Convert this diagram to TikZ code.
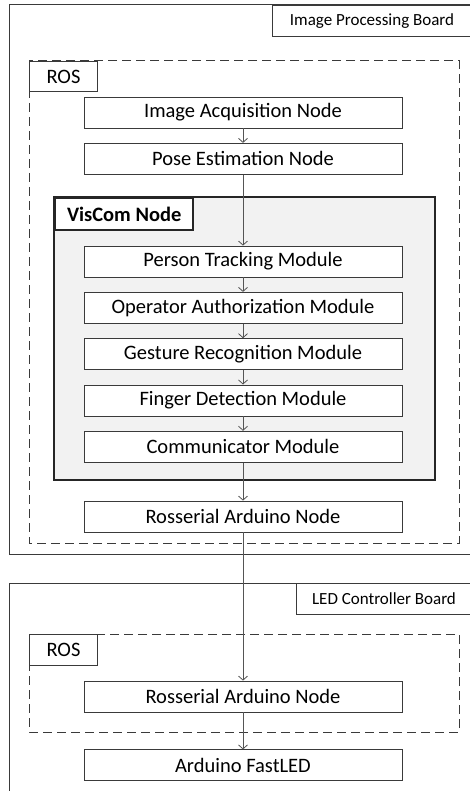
\documentclass[tikz,border=0pt]{standalone}
\usepackage{fontspec}
\setmainfont{Carlito}
\usetikzlibrary{arrows.meta,positioning}
\definecolor{Edge}{HTML}{3A3A3A}
\definecolor{Wire}{HTML}{555555}
\definecolor{Shade}{HTML}{F2F2F2}
\tikzset{
  board/.style={draw=Edge,line width=1pt},
  boardtag/.style={draw=Edge,line width=1pt,fill=white,inner sep=0pt,
    minimum height=31pt,font=\fontsize{17}{20}\selectfont},
  rosframe/.style={draw=Edge,line width=1pt,dash pattern=on 9pt off 5pt},
  rostag/.style={draw=Edge,line width=1pt,fill=white,inner sep=0pt,
    minimum width=68pt,minimum height=30pt,font=\fontsize{20.5}{24}\selectfont},
  block/.style={draw=Edge,line width=0.8pt,fill=white,inner sep=0pt,
    minimum width=318pt,minimum height=31pt,font=\fontsize{20.5}{24}\selectfont},
  arrow/.style={-{Straight Barb[length=4pt,width=9pt]},line width=0.8pt,color=Wire}
}
\begin{document}
\begin{tikzpicture}[x=1pt,y=-1pt,node distance=14.5pt]
  \useasboundingbox (0,0) rectangle (470,791);
  % image processing board (runs off the right edge)
  \draw[board] (490,5) -- (9,5) -- (9,554) -- (490,554);
  \node[boardtag,anchor=north east,minimum width=217pt] (tagA) at (490,5) {Image Processing Board\hspace*{18pt}};
  \draw[rosframe] (29,61) rectangle (459,543);
  \node[rostag,anchor=north west] (rostagA) at (29,61) {ROS};
  \node[block] (iacq) at (243,112.5) {Image Acquisition Node};
  \node[block,below=of iacq] (pose) {Pose Estimation Node};
  % viscom node
  \draw[draw=black!85,line width=2.4pt,fill=Shade] (54,197) rectangle (435,480);
  \node[draw=black!85,line width=2.4pt,fill=white,anchor=north west,inner sep=0pt,
    minimum width=138pt,minimum height=32pt,font=\fontsize{20.5}{24}\selectfont\bfseries]
    (vctag) at (54,197) {VisCom Node};
  \node[block] (track) at (243,261.5) {Person Tracking Module};
  \node[block,below=of track] (auth) {Operator Authorization Module};
  \node[block,below=of auth] (gest) {Gesture Recognition Module};
  \node[block,below=of gest] (finger) {Finger Detection Module};
  \node[block,below=of finger] (comm) {Communicator Module};
  \node[block,below=38pt of comm] (rosA) {Rosserial Arduino Node};
  % led controller board
  \draw[board] (490,583) -- (9,583) -- (9,800);
  \node[boardtag,anchor=north east,minimum width=193pt] (tagB) at (490,583) {LED Controller Board\hspace*{18pt}};
  \draw[rosframe] (29,634) rectangle (459,732);
  \node[rostag,anchor=north west,minimum height=31pt] (rostagB) at (29,634) {ROS};
  \node[block] (rosB) at (243,696.5) {Rosserial Arduino Node};
  \node[block,below=37pt of rosB] (fastled) {Arduino FastLED};
  % data flow
  \draw[arrow] (iacq) -- (pose);
  \draw[arrow] (pose) -- (track);
  \draw[arrow] (track) -- (auth);
  \draw[arrow] (auth) -- (gest);
  \draw[arrow] (gest) -- (finger);
  \draw[arrow] (finger) -- (comm);
  \draw[arrow] (comm) -- (rosA);
  \draw[arrow] (rosA) -- (rosB);
  \draw[arrow] (rosB) -- (fastled);
\end{tikzpicture}
\end{document}
